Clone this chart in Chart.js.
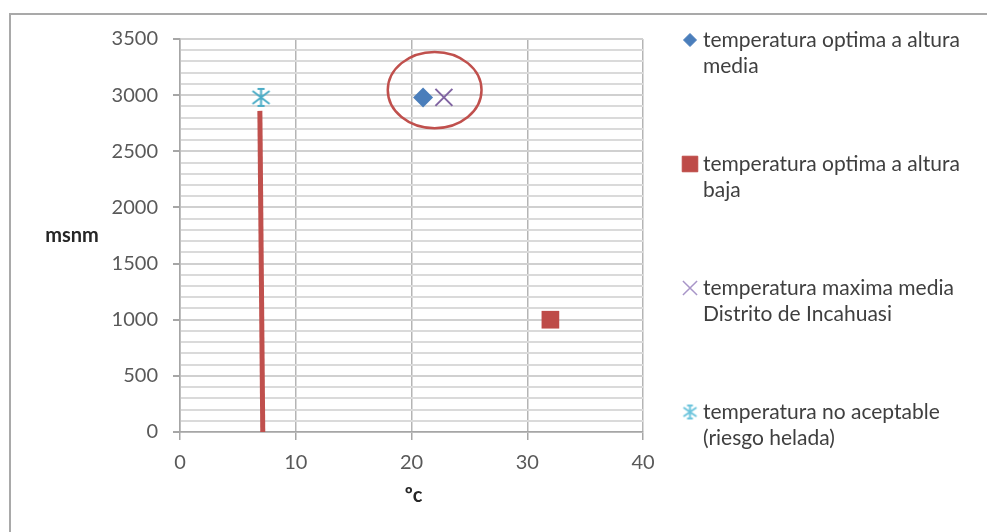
<!DOCTYPE html>
<html>
<head>
<meta charset="utf-8">
<script src="https://cdn.jsdelivr.net/npm/chart.js@4/dist/chart.umd.min.js"></script>
<style>
  html, body { margin: 0; padding: 0; background: #ffffff; }
  #wrap { position: relative; width: 987px; height: 532px; }
  #frame { position: absolute; left: 9px; top: 13px; width: 990px; height: 540px; border: 2px solid #a9a9a9; box-sizing: border-box; }
  canvas { position: absolute; left: 0; top: 0; }
</style>
</head>
<body>
<div id="wrap">
  <div id="frame"></div>
  <canvas id="c" width="987" height="532"></canvas>
</div>
<script>
// Series labels (legend text, split into lines)
const seriesLabels = [
  ['temperatura optima a altura', 'media'],
  ['temperatura optima a altura', 'baja'],
  ['temperatura maxima media', 'Distrito de Incahuasi'],
  ['temperatura no aceptable', '(riesgo helada)']
];

// Temperature (ºc) and altitude (msnm) of each point
const optimaMediaX = [21];
const optimaMediaY = [2980];
const optimaBajaX = [32];
const optimaBajaY = [1000];
const maximaIncahuasiX = [22.8];
const maximaIncahuasiY = [2980];
const noAceptableX = [7];
const noAceptableY = [2980];

// Frost limit line drawn down from the unacceptable temperature
const frostLineX = [6.9, 7.15];
const frostLineY = [2860, 0];

// Axis ranges and ticks
const xTicks = [0, 10, 20, 30, 40];
const yMajorStep = 500;
const yMinorStep = 100;
const yMax = 3500;

// Highlight ring around the two points near 3000 msnm (data units)
const ringCenter = { x: 22.0, y: 3045 };
const ringRadius = { x: 4.05, y: 340 };

const FONT = 'Lato, "Open Sans", sans-serif';

function pts(xs, ys) { return xs.map((x, i) => ({ x: x, y: ys[i] })); }

// Asterisk marker: an X with a vertical stroke and short caps
function asteriskMarker(size, color) {
  const cv = document.createElement('canvas');
  cv.width = size; cv.height = size;
  const g = cv.getContext('2d');
  const m = 2, s = size;
  g.strokeStyle = color; g.lineWidth = 2; g.lineCap = 'butt';
  g.beginPath();
  g.moveTo(m, m + 2); g.lineTo(s - m, s - m - 2);
  g.moveTo(s - m, m + 2); g.lineTo(m, s - m - 2);
  g.moveTo(s / 2, m); g.lineTo(s / 2, s - m);
  g.moveTo(s * 0.33, m); g.lineTo(s * 0.67, m);
  g.moveTo(s * 0.33, s - m); g.lineTo(s * 0.67, s - m);
  g.stroke();
  return cv;
}

const BLUE = '#4a7ebb', RED = '#be4b48', PURPLE = '#8064a2', CYAN = '#4bacc6';
const starImg = asteriskMarker(21, CYAN);
const starImgLegend = asteriskMarker(17, '#6cc4dc');

const datasets = [
  { label: seriesLabels[0].join(' '), lines: seriesLabels[0], data: pts(optimaMediaX, optimaMediaY),
    pointStyle: 'rectRot', pointRadius: 10, backgroundColor: BLUE, borderColor: BLUE, borderWidth: 0,
    legendStyle: 'rectRot', legendRadius: 6.5 },
  { label: seriesLabels[1].join(' '), lines: seriesLabels[1], data: pts(optimaBajaX, optimaBajaY),
    pointStyle: 'rect', pointRadius: 12.5, backgroundColor: RED, borderColor: RED, borderWidth: 0,
    legendStyle: 'rect', legendRadius: 11 },
  { label: seriesLabels[2].join(' '), lines: seriesLabels[2], data: pts(maximaIncahuasiX, maximaIncahuasiY),
    pointStyle: 'crossRot', pointRadius: 12, backgroundColor: PURPLE, borderColor: PURPLE, borderWidth: 2,
    legendStyle: 'crossRot', legendRadius: 10, legendColor: '#a895c8', legendWidth: 1.5 },
  { label: seriesLabels[3].join(' '), lines: seriesLabels[3], data: pts(noAceptableX, noAceptableY),
    pointStyle: starImg, pointRadius: 10, backgroundColor: CYAN, borderColor: CYAN, borderWidth: 2,
    legendStyle: starImgLegend, legendRadius: 8 },
  { label: 'frost', inLegend: false, data: pts(frostLineX, frostLineY), showLine: true,
    borderColor: '#c0504d', borderWidth: 5, pointRadius: 0, order: 5 }
];
datasets.forEach(d => { if (d.inLegend === undefined) d.inLegend = true; if (d.order === undefined) d.order = 0; });

// Axis titles drawn horizontally
const axisTitles = {
  id: 'axisTitles',
  afterDraw(chart) {
    const { ctx, chartArea: a } = chart;
    ctx.save();
    ctx.fillStyle = '#262626';
    ctx.font = 'bold 20px ' + FONT;
    ctx.textAlign = 'center'; ctx.textBaseline = 'middle';
    ctx.fillText('msnm', 72, 236);
    ctx.fillText('ºc', (a.left + a.right) / 2 + 2, 496);
    ctx.restore();
  }
};

// Red ring around the two series near 3000 msnm
const ring = {
  id: 'ring',
  afterDatasetsDraw(chart) {
    const { ctx, scales: { x, y } } = chart;
    const cx = x.getPixelForValue(ringCenter.x), cy = y.getPixelForValue(ringCenter.y);
    const rx = x.getPixelForValue(ringCenter.x + ringRadius.x) - cx;
    const ry = cy - y.getPixelForValue(ringCenter.y + ringRadius.y);
    ctx.save();
    ctx.strokeStyle = '#c0504d'; ctx.lineWidth = 2.5;
    ctx.beginPath(); ctx.ellipse(cx, cy, rx, ry, 0, 0, Math.PI * 2); ctx.stroke();
    ctx.restore();
  }
};

// Legend at the right: marker plus two-line label
const sideLegend = {
  id: 'sideLegend',
  afterDraw(chart) {
    const { ctx } = chart;
    const items = chart.data.datasets.filter(d => d.inLegend);
    const x0 = 690, tx = 703, y0 = 40, gap = 124, lineH = 26;
    ctx.save();
    items.forEach((d, i) => {
      const y = y0 + i * gap;
      ctx.fillStyle = d.backgroundColor;
      ctx.strokeStyle = d.legendColor || d.borderColor;
      ctx.lineWidth = d.legendWidth || d.borderWidth || 1;
      Chart.helpers.drawPoint(ctx, { pointStyle: d.legendStyle, radius: d.legendRadius, borderWidth: ctx.lineWidth, rotation: 0 }, x0, y);
      ctx.fillStyle = '#3f3f3f';
      ctx.font = '21px ' + FONT;
      ctx.textAlign = 'left'; ctx.textBaseline = 'middle';
      d.lines.forEach((t, k) => ctx.fillText(t, tx, y + k * lineH));
    });
    ctx.restore();
  }
};

new Chart(document.getElementById('c'), {
  type: 'scatter',
  data: { datasets: datasets },
  plugins: [ring, axisTitles, sideLegend],
  options: {
    responsive: false,
    devicePixelRatio: 1,
    animation: false,
    layout: { padding: { left: 0, top: 39, right: 344, bottom: 0 } },
    plugins: { legend: { display: false }, tooltip: { enabled: false } },
    scales: {
      x: {
        type: 'linear', min: xTicks[0], max: xTicks[xTicks.length - 1],
        afterFit: s => { s.height = 100; },
        afterBuildTicks: s => { s.ticks = xTicks.map(v => ({ value: v })); },
        ticks: { color: '#595959', font: { family: FONT, size: 20 }, padding: 11, maxRotation: 0 },
        grid: { color: '#b5b5b5', lineWidth: 1.5, tickLength: 8, tickColor: '#a6a6a6' },
        border: { color: '#a6a6a6', width: 1.5 }
      },
      y: {
        type: 'linear', min: 0, max: yMax,
        afterFit: s => { s.width = 180; },
        ticks: {
          stepSize: yMinorStep, autoSkip: false, color: '#595959',
          font: { family: FONT, size: 20 }, padding: 15,
          callback: v => (v % yMajorStep === 0 ? v : '')
        },
        grid: {
          color: c => (c.tick && c.tick.value % yMajorStep === 0 ? '#d0d0d0' : '#dadada'),
          lineWidth: 2, tickLength: 7,
          tickColor: c => (c.tick && c.tick.value % yMajorStep === 0 ? '#a6a6a6' : 'rgba(0,0,0,0)')
        },
        border: { color: '#a6a6a6', width: 1.5 }
      }
    }
  }
});
</script>
</body>
</html>
